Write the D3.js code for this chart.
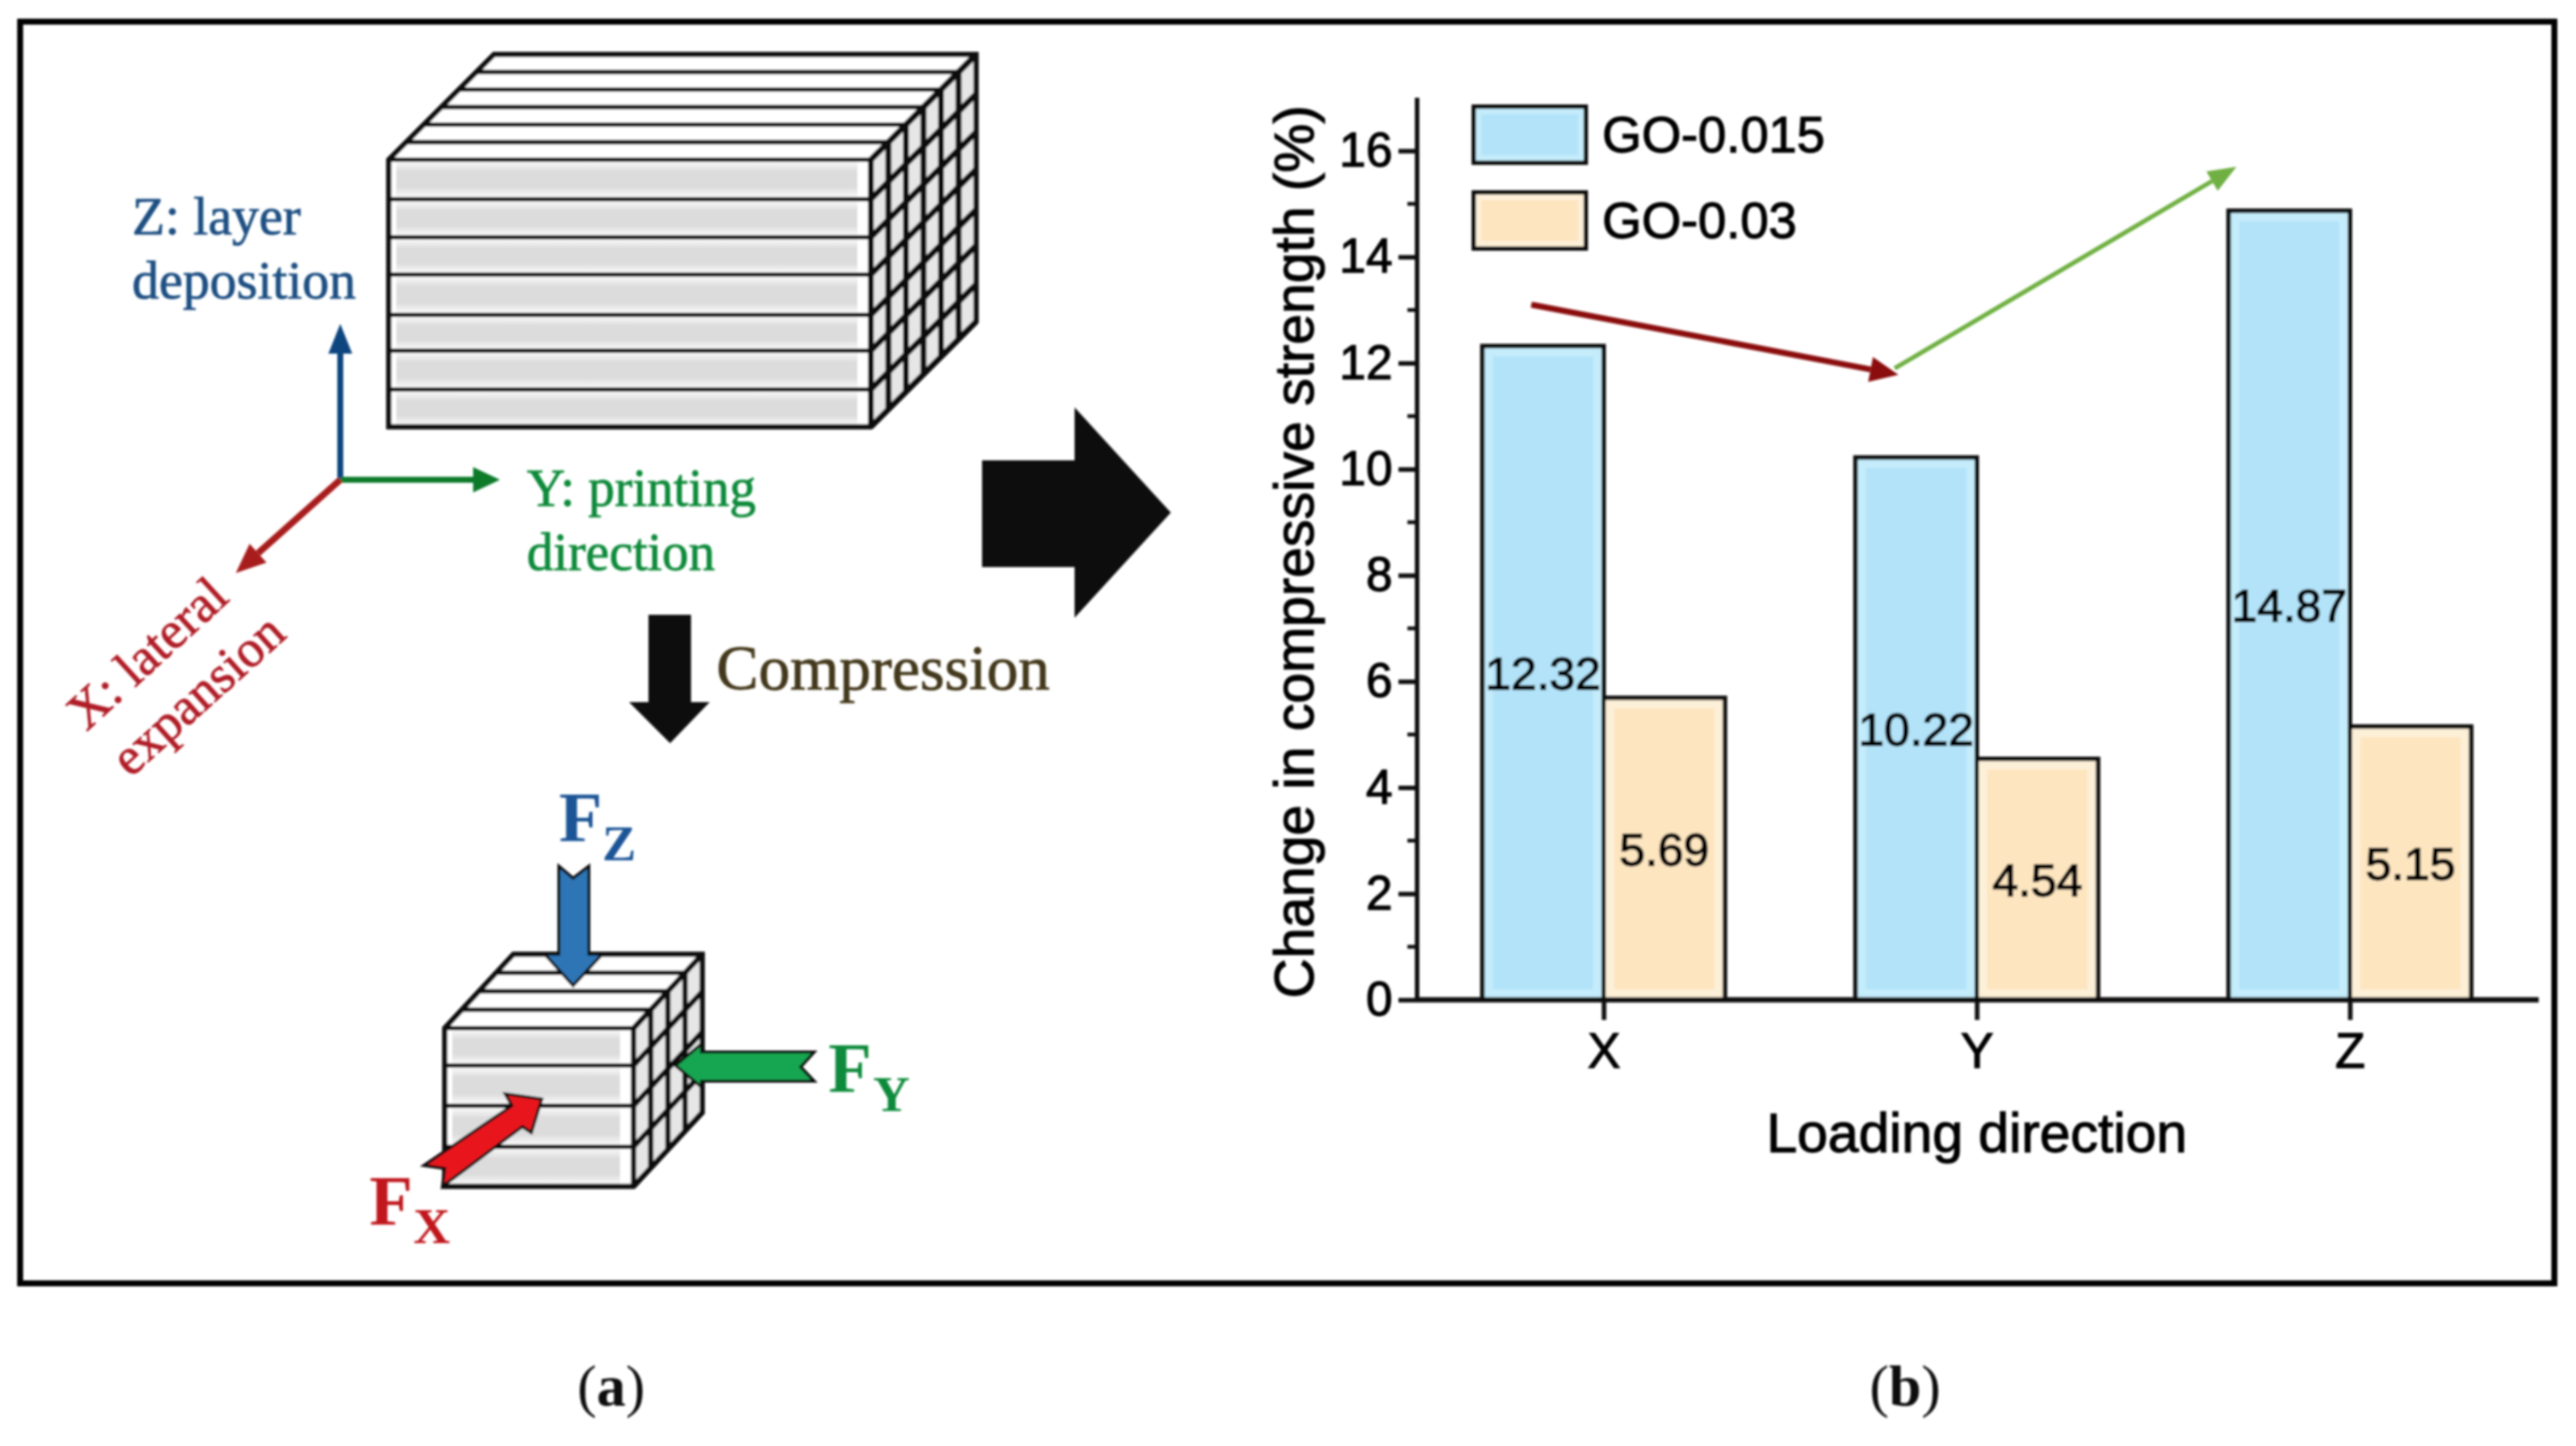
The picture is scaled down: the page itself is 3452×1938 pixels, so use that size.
<!DOCTYPE html>
<html><head><meta charset="utf-8">
<script src="https://cdn.jsdelivr.net/npm/d3@7/dist/d3.min.js"></script>
<style>html,body{margin:0;padding:0;background:#fff}svg{display:block}</style>
</head><body><svg id="c" width="3452" height="1938"></svg>
<script>
const categories = ["X","Y","Z"];
const seriesNames = ["GO-0.015","GO-0.03"];
const go015 = [12.32,10.22,14.87];
const go03 = [5.69,4.54,5.15];
const seriesColors = ["#b3e3f9","#fde5c0"];
const seriesEdge = ["#c4ecfb","#fdf0d8"];
const majorTicks = [0,2,4,6,8,10,12,14,16];
const minorTicks = [1,3,5,7,9,11,13,15];
const yTitle = "Change in compressive strength (%)";
const xTitle = "Loading direction";

const svg = d3.select("#c");
const defs = svg.append("defs");
defs.append("filter").attr("id","soft").attr("x","-5%").attr("y","-5%").attr("width","110%").attr("height","110%")
  .append("feGaussianBlur").attr("stdDeviation",1.7);
const grad=(id,stops)=>{const g=defs.append("linearGradient").attr("id",id).attr("x1",0).attr("x2",0).attr("y1",0).attr("y2",1);
  stops.forEach(s=>g.append("stop").attr("offset",s[0]).attr("stop-color",s[1]));};
grad("lay",[[0,"#ffffff"],[.3,"#dcdcdc"],[.7,"#dcdcdc"],[1,"#ffffff"]]);

const root = svg.append("g").attr("filter","url(#soft)");
const SANS="Liberation Sans, Arial, sans-serif", SERIF="Liberation Serif, Times New Roman, serif";
const heavy=(s,c,w)=>s.attr("fill",c).attr("stroke",c).attr("stroke-width",w);

// outer frame
root.append("rect").attr("x",27).attr("y",29).attr("width",3396).attr("height",1691)
  .attr("fill","none").attr("stroke","#050505").attr("stroke-width",8);

// ---------- panel (b): bar chart ----------
const plot = root.append("g");
const y = d3.scaleLinear().domain([0,17]).range([1340,131]);
const x = d3.scaleBand().domain(categories).range([1899,3399]).paddingInner(.35).paddingOuter(.175);
const sub = d3.scaleBand().domain(seriesNames).range([0,x.bandwidth()]);
const inset = 14;

[go015,go03].forEach((vals,si)=>{
  const g=plot.append("g");
  g.selectAll("rect.o").data(categories).join("rect").attr("class","o")
    .attr("x",c=>x(c)+sub(seriesNames[si])).attr("width",sub.bandwidth())
    .attr("y",(c,i)=>y(vals[i])).attr("height",(c,i)=>y(0)-y(vals[i]))
    .attr("fill",seriesEdge[si]).attr("stroke","#0a0a0a").attr("stroke-width",6);
  g.selectAll("rect.i").data(categories).join("rect").attr("class","i")
    .attr("x",c=>x(c)+sub(seriesNames[si])+inset).attr("width",sub.bandwidth()-2*inset)
    .attr("y",(c,i)=>y(vals[i])+inset).attr("height",(c,i)=>y(0)-y(vals[i])-2*inset)
    .attr("fill",seriesColors[si]);
});
[go015,go03].forEach((vals,si)=>{
  const g=plot.append("g");
  heavy(g.selectAll("text").data(categories).join("text")
    .attr("x",c=>x(c)+sub(seriesNames[si])+sub.bandwidth()/2)
    .attr("y",(c,i)=>y(vals[i]/2)+22)
    .attr("text-anchor","middle").attr("font-family",SANS).attr("font-size",62)
    .text((c,i)=>vals[i].toFixed(2)),"#000",1.8);
});

const yAxis = plot.append("g").attr("transform",`translate(${x.range()[0]},0)`)
  .call(d3.axisLeft(y).tickValues(majorTicks).tickSize(25).tickPadding(8).tickFormat(d3.format("d")));
heavy(yAxis.selectAll("text").attr("font-family",SANS).attr("font-size",64),"#000",1.4);
yAxis.append("g").selectAll("line").data(minorTicks).join("line")
  .attr("x1",-13).attr("x2",0).attr("y1",d=>y(d)).attr("y2",d=>y(d)).attr("stroke","#111").attr("stroke-width",5);
const xAxis = plot.append("g").attr("transform",`translate(0,${y(0)})`)
  .call(d3.axisBottom(d3.scalePoint().domain(categories).range([x.range()[0]+250,x.range()[0]+1250])).tickSize(27).tickPadding(17));
heavy(xAxis.selectAll("text").attr("font-family",SANS).attr("font-size",66),"#000",1.4);
[yAxis,xAxis].forEach(a=>{a.selectAll(".tick line").attr("stroke","#0a0a0a").attr("stroke-width",6);a.select(".domain").attr("display","none");});
plot.append("line").attr("x1",x.range()[0]).attr("x2",x.range()[0]).attr("y1",y(17)).attr("y2",y(0)).attr("stroke","#0a0a0a").attr("stroke-width",6);
plot.append("line").attr("x1",x.range()[0]).attr("x2",3402).attr("y1",y(0)).attr("y2",y(0)).attr("stroke","#0a0a0a").attr("stroke-width",7);

heavy(plot.append("text").attr("transform",`translate(1760,${(y(0)+y(17))/2+4}) rotate(-90)`).attr("text-anchor","middle")
  .attr("font-family",SANS).attr("font-size",74).text(yTitle),"#000",1.4);
heavy(plot.append("text").attr("x",2649).attr("y",1544).attr("text-anchor","middle")
  .attr("font-family",SANS).attr("font-size",74).text(xTitle),"#000",1.4);

// legend
seriesNames.forEach((n,i)=>{
  const t=[143,258][i];
  plot.append("rect").attr("x",1975).attr("y",t).attr("width",150).attr("height",75)
    .attr("fill",seriesEdge[i]).attr("stroke","#0a0a0a").attr("stroke-width",6);
  plot.append("rect").attr("x",1985).attr("y",t+10).attr("width",130).attr("height",55).attr("fill",seriesColors[i]);
  heavy(plot.append("text").attr("x",2147).attr("y",t+61).attr("font-family",SANS).attr("font-size",68).text(n),"#000",1.4);
});

// arrows: coordinates in category/value space
const trend=(a,b,col,w,hl,hw)=>{
  const p=d=>[x.range()[0]+250+d[0]*500,y(d[1])];
  const A=p(a),B=p(b),ang=Math.atan2(B[1]-A[1],B[0]-A[0]);
  const bx=B[0]-hl*Math.cos(ang),by=B[1]-hl*Math.sin(ang);
  plot.append("line").attr("x1",A[0]).attr("y1",A[1]).attr("x2",bx).attr("y2",by).attr("stroke",col).attr("stroke-width",w);
  plot.append("path").attr("fill",col).attr("d",d3.line()([B,[bx-hw*Math.sin(ang),by+hw*Math.cos(ang)],[bx+hw*Math.sin(ang),by-hw*Math.cos(ang)]])+"Z");
};
trend([-.194,13.1],[.79,11.78],"#8b0f0f",8,38,17);
trend([.78,11.9],[1.696,15.7],"#6fb043",6,38,15);

// ---------- panel (a): illustration ----------
const ill=root.append("g");
const poly=(pts,fill,stroke,sw)=>ill.append("path").attr("d",d3.line()(pts)+"Z").attr("fill",fill)
  .attr("stroke",stroke||"none").attr("stroke-width",sw||0).attr("stroke-linejoin","miter");
const seg=(a,b,w,c)=>ill.append("line").attr("x1",a[0]).attr("y1",a[1]).attr("x2",b[0]).attr("y2",b[1])
  .attr("stroke",c||"#0a0a0a").attr("stroke-width",w);
function block(f,dx,dy,layers,cols,topN,sw,fw){
  const [l,r,t,b]=f;
  const ys=[t,...layers,b];
  poly([[l,t],[r,t],[r,b],[l,b]],"#fff");
  for(let i=0;i<ys.length-1;i++)
    ill.append("rect").attr("x",l+10).attr("y",ys[i]).attr("width",r-l-28).attr("height",ys[i+1]-ys[i]).attr("fill","url(#lay)");
  poly([[l,t],[l+dx,t-dy],[r+dx,t-dy],[r,t]],"#fff");
  poly([[r,t],[r+dx,t-dy],[r+dx,b-dy],[r,b]],"#e6e6e6");
  for(let k=1;k<topN;k++){const q=k/topN;seg([l+dx*q,t-dy*q],[r+dx*q,t-dy*q],sw);}
  ys.forEach(v=>{seg([l,v],[r,v],sw);seg([r,v],[r+dx,v-dy],fw);});
  for(let c=1;c<cols;c++){const k=c/cols;seg([r+dx*k,t-dy*k],[r+dx*k,b-dy*k],fw);}
  poly([[l,t],[l,b],[r,b],[r+dx,b-dy],[r+dx,t-dy],[l+dx,t-dy]],"none","#0a0a0a",sw+1);
  seg([r,t],[r,b],fw);seg([r,t],[r+dx,t-dy],fw);
}
block([521,1167,214,572],141,141,[267,318,368,422,470,522],6,6,6,8);
block([596,849,1378,1590],92,99,[1428,1482,1537],4,4,6,7);

// axes triad
const triad=(a,b,c,w,hl,hw)=>{
  const ang=Math.atan2(b[1]-a[1],b[0]-a[0]);
  const bx=b[0]-hl*Math.cos(ang),by=b[1]-hl*Math.sin(ang);
  seg(a,[bx,by],w,c);
  poly([b,[bx-hw*Math.sin(ang),by+hw*Math.cos(ang)],[bx+hw*Math.sin(ang),by-hw*Math.cos(ang)]],c);
};
triad([456,643],[456,434],"#10457f",8,40,16);
triad([456,643],[670,643],"#0d7a2c",8,36,17);
triad([456,643],[316,768],"#a81c1c",9,40,17);

const txt=(s,size,fill,tr,w)=>heavy(ill.append("text").attr("transform",tr).attr("font-family",SERIF)
  .attr("font-size",size).text(s),fill,w===undefined?1:w);
txt("Z: layer",72,"#1f4f82","translate(177,314)");
txt("deposition",72,"#1f4f82","translate(177,400)");
txt("Y: printing",71,"#0f8a3a","translate(706,678)");
txt("direction",71,"#0f8a3a","translate(706,764)");
txt("X: lateral",70,"#b01f26","translate(116,981) rotate(-42.5)");
txt("expansion",70,"#b01f26","translate(175,1043) rotate(-42)");
txt("Compression",84.7,"#43371a","translate(960,924)");

// black arrows
poly([[869,824],[926,824],[926,941],[951,941],[898,996],[843,941],[869,941]],"#0a0a0a");
poly([[1316,617],[1440,617],[1440,546],[1569,687],[1440,828],[1440,760],[1316,760]],"#111");

// force arrows
poly([[749,1161],[768,1177],[789,1161],[789,1279],[807,1279],[768,1321],[730,1279],[749,1279]],"#2f75b5","#111",4);
poly([[905,1428],[940,1399],[940,1410],[1091,1410],[1073,1430],[1091,1449],[940,1449],[940,1457]],"#14a651","#111",4);
poly([[726,1473],[677,1466],[686,1482],[568,1562],[596,1566],[593,1590],[700,1510],[712,1518]],"#e8141c","#111",4);

const force=(m,s,xF,yF,xS,yS,col)=>{
  txt(m,95,col,`translate(${xF},${yF})`,0).attr("font-weight","bold");
  txt(s,68,col,`translate(${xS},${yS})`,0).attr("font-weight","bold");
};
force("F","Z",749,1128,807,1153,"#1f5596");
force("F","Y",1110,1464,1170,1489,"#0f8a3a");
force("F","X",495,1642,554,1666,"#c0141c");

// panel captions
const cap=(l,cx)=>{const t=root.append("text").attr("x",cx).attr("y",1884).attr("text-anchor","middle")
  .attr("font-family",SERIF).attr("font-size",78).attr("fill","#111");
  t.append("tspan").text("(");t.append("tspan").attr("font-weight","bold").text(l);t.append("tspan").text(")");};
cap("a",819);cap("b",2553);
</script></body></html>
